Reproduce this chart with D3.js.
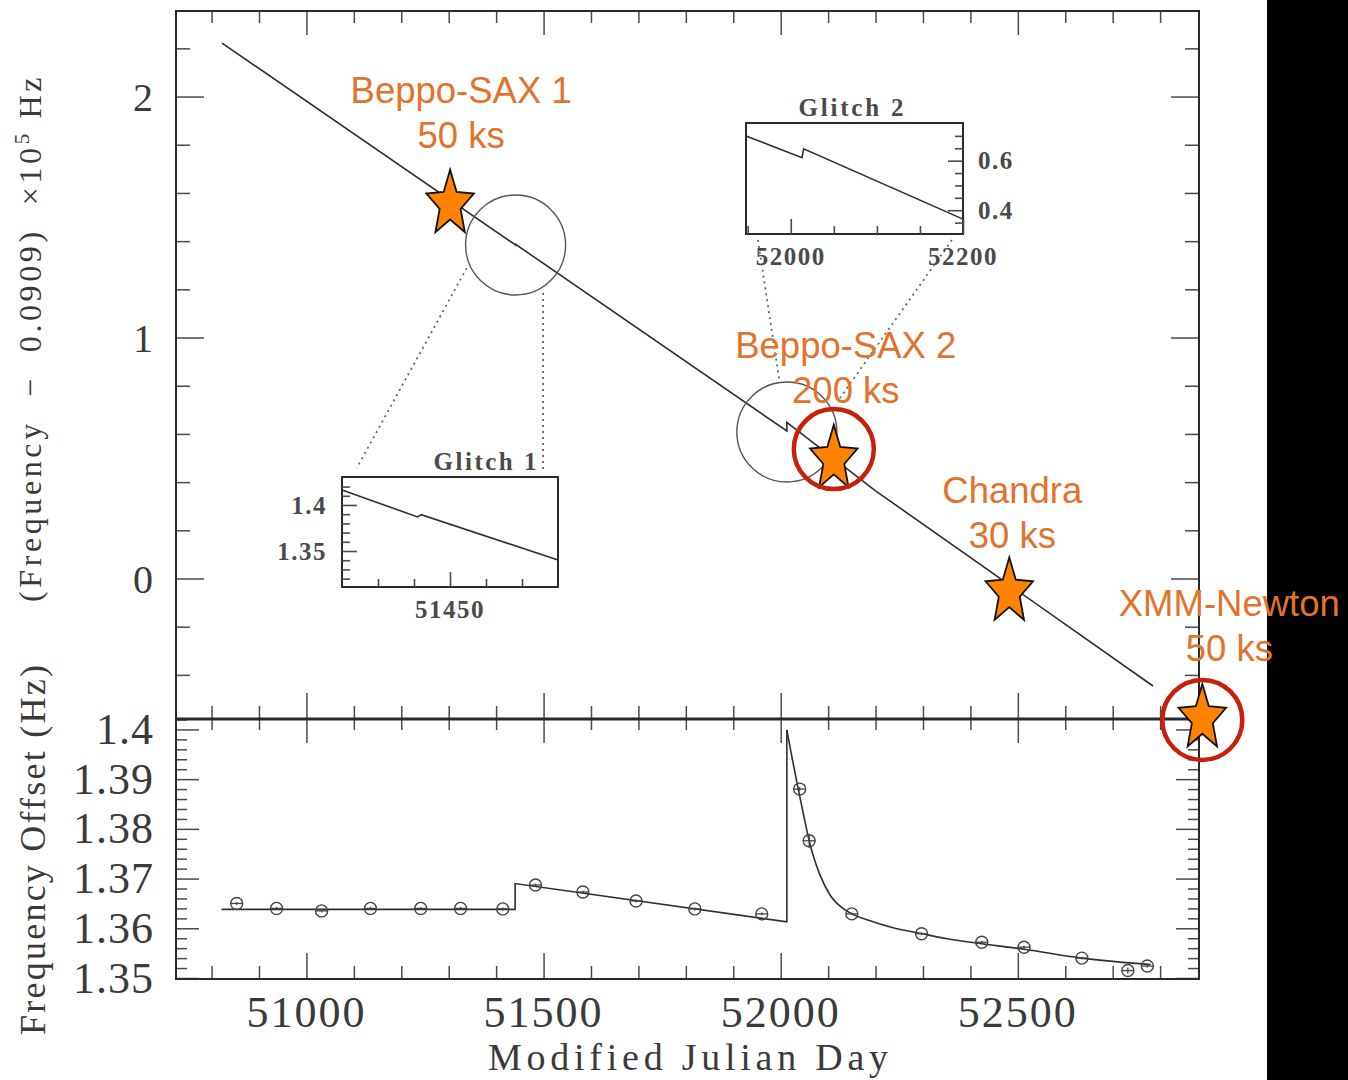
<!DOCTYPE html>
<html>
<head>
<meta charset="utf-8">
<script src="https://cdn.jsdelivr.net/npm/d3@7"></script>
<style>
  html, body { margin: 0; padding: 0; background: #fff; }
  svg { display: block; }
</style>
</head>
<body>
<script>
// ---- Data -------------------------------------------------------------
// Upper panel: spin frequency model, (Frequency - 0.0909) x 1e5 Hz vs MJD
const freqMjd   = [50822, 51441, 51441, 52013, 52013, 52200, 52785];
const freqValue = [2.222, 1.384, 1.387, 0.612, 0.648, 0.364, -0.446];

// Glitch 1 close-up
const g1Mjd   = [51420, 51441, 51442, 51480];
const g1Value = [1.4163, 1.3870, 1.3895, 1.3402];
// Glitch 2 close-up
const g2Mjd   = [51948, 52013, 52015, 52200];
const g2Value = [0.700, 0.612, 0.648, 0.364];

// Lower panel: measured frequency offsets (Hz)
const obsMjd    = [50853, 50937, 51032, 51135, 51241, 51325, 51414, 51483, 51583, 51695, 51819,
                   51960, 52040, 52060, 52150, 52297, 52424, 52513, 52635, 52732, 52773];
const obsOffset = [1.3650, 1.3640, 1.3635, 1.3640, 1.3640, 1.3640, 1.3639, 1.3687, 1.3673, 1.3655, 1.3639,
                   1.3629, 1.3880, 1.3776, 1.3629, 1.3589, 1.3572, 1.3562, 1.3540, 1.3515, 1.3524];
const obsErr    = [0.0003, 0.0003, 0.0003, 0.0003, 0.0003, 0.0003, 0.0003, 0.0003, 0.0003, 0.0003, 0.0003,
                   0.0003, 0.0004, 0.0014, 0.0003, 0.0003, 0.0003, 0.0003, 0.0003, 0.0006, 0.0003];

// Fitted model: piecewise linear before glitch 2, recovery afterwards
const fitPreMjd    = [50821, 51440, 51440, 52013, 52013];
const fitPreOffset = [1.3638, 1.3638, 1.3690, 1.3613, 1.3999];
const fitPostMjd    = [52013, 52024, 52034, 52047, 52060, 52068, 52083, 52104, 52130, 52150, 52182,
                       52237, 52298, 52351, 52416, 52513, 52635, 52780];
const fitPostOffset = [1.3999, 1.3943, 1.3894, 1.3834, 1.3776, 1.3748, 1.3707, 1.3667, 1.3641, 1.3629, 1.3617,
                       1.3601, 1.3589, 1.3579, 1.3570, 1.3558, 1.3540, 1.3527];

// X-ray observations
const obsNames    = ["Beppo-SAX 1", "Beppo-SAX 2", "Chandra", "XMM-Newton"];
const obsExposure = ["50 ks", "200 ks", "30 ks", "50 ks"];
const starMjd     = [51303, 52112, 52482, 52889];
const starValue   = [1.553, 0.495, -0.056, -0.581];
const ringMjd     = [52112, 52889];
const ringValue   = [0.537, -0.587];

// Zoom circles around glitches and dotted connectors to the close-ups
const glitchMjd   = [51441, 52013];
const glitchValue = [1.384, 0.608];
const connectors = [
  [[51338, 1.288], [51106, 0.458]],
  [[51499, 1.185], [51499, 0.450]],
  [[51952, 1.405], [51998, 0.811]],
  [[52361, 1.405], [52125, 0.749]]
];

// Tick labels
const xTickLabels   = ["51000", "51500", "52000", "52500"];
const topTickLabels = ["0", "1", "2"];
const botTickLabels = ["1.35", "1.36", "1.37", "1.38", "1.39", "1.4"];
const g1YTickLabels = ["1.35", "1.4"];
const g1XTickLabels = ["51450"];
const g2YTickLabels = ["0.4", "0.6"];
const g2XTickLabels = ["52000", "52200"];

// ---- Layout -----------------------------------------------------------
const W = 1348, H = 1080;
const L = 176, R = 1199, T = 11, MID = 719, B = 979;
const serif = "'Liberation Serif', 'Times New Roman', serif";
const sans  = "'Liberation Sans', Arial, sans-serif";
const ink = "#3a3a3a", tickInk = "#4a4a4a";
const orangeText = "#E2732D", starFill = "#FF8200", ringColor = "#C81E0A";
const labelOffset = [[11, -101], [12, -101], [3, -89], [27, -103]];

const svg = d3.select("body").append("svg").attr("width", W).attr("height", H);
svg.append("rect").attr("width", W).attr("height", H).attr("fill", "#fff");

const x = d3.scaleLinear().domain([50725, 52882]).range([L, R]);
const yTop = d3.scaleLinear().domain([-0.583, 2.355]).range([MID, T]);
const yBot = d3.scaleLinear().domain([1.3498, 1.4021]).range([B, MID]);

const zip = (a, b) => a.map((d, i) => [d, b[i]]);

function tickSet(axisFn, scale, vals, size, tx, ty, width) {
  const g = svg.append("g").attr("transform", `translate(${tx},${ty})`)
    .call(axisFn(scale).tickValues(vals).tickSize(size).tickFormat(""));
  g.select(".domain").remove();
  g.selectAll("line").attr("stroke", tickInk).attr("stroke-width", width || 1.5);
  return g;
}

// ---- Axes ticks ----------------------------------------------------------
const xMajor = xTickLabels.map(Number);
const xMinor = d3.range(508, 529).map(i => i * 100).filter(v => v % 500 !== 0);
const topMajor = topTickLabels.map(Number);
const topMinor = d3.range(-2, 12).map(i => +(i * 0.2).toFixed(1)).filter(v => !Number.isInteger(v));
const botMajor = botTickLabels.map(Number);
const botMinor = d3.range(675, 702).map(i => +(i * 0.002).toFixed(3))
  .filter(v => Math.abs(v * 100 - Math.round(v * 100)) > 1e-6);

// upper panel
tickSet(d3.axisBottom, x, xMajor, 24, 0, T);
tickSet(d3.axisBottom, x, xMinor, 12, 0, T);
tickSet(d3.axisTop, x, xMajor, 26, 0, MID);
tickSet(d3.axisTop, x, xMinor, 13, 0, MID);
tickSet(d3.axisRight, yTop, topMajor, 28, L, 0);
tickSet(d3.axisRight, yTop, topMinor, 14, L, 0);
tickSet(d3.axisLeft, yTop, topMajor, 28, R, 0);
tickSet(d3.axisLeft, yTop, topMinor, 14, R, 0);
// lower panel
tickSet(d3.axisBottom, x, xMajor, 24, 0, MID);
tickSet(d3.axisBottom, x, xMinor, 11, 0, MID);
tickSet(d3.axisTop, x, xMajor, 26, 0, B);
tickSet(d3.axisTop, x, xMinor, 13, 0, B);
tickSet(d3.axisRight, yBot, botMajor, 23, L, 0);
tickSet(d3.axisRight, yBot, botMinor, 11, L, 0);
tickSet(d3.axisLeft, yBot, botMajor, 23, R, 0);
tickSet(d3.axisLeft, yBot, botMinor, 11, R, 0);

// frames
svg.append("rect").attr("x", L).attr("y", T).attr("width", R - L).attr("height", B - T)
  .attr("fill", "none").attr("stroke", "#2a2a2a").attr("stroke-width", 2);
svg.append("line").attr("x1", L).attr("x2", R).attr("y1", MID).attr("y2", MID)
  .attr("stroke", "#2a2a2a").attr("stroke-width", 3.2);

// ---- Tick labels ----------------------------------------------------------
svg.append("g").selectAll("text").data(xTickLabels).join("text")
  .attr("x", d => x(+d)).attr("y", 1027)
  .attr("text-anchor", "middle").attr("font-family", serif).attr("font-size", 44)
  .attr("letter-spacing", 2).attr("fill", ink).text(d => d);

svg.append("g").selectAll("text").data(botTickLabels).join("text")
  .attr("x", 154).attr("y", d => yBot(+d)).attr("dy", "0.33em")
  .attr("text-anchor", "end").attr("font-family", serif).attr("font-size", 44)
  .attr("letter-spacing", 1).attr("fill", ink).text(d => d);

svg.append("g").selectAll("text").data(topTickLabels).join("text")
  .attr("x", 143).attr("y", d => yTop(+d)).attr("dy", "0.35em").attr("text-anchor", "middle")
  .attr("font-family", serif).attr("font-size", 40).attr("fill", ink).text(d => d);

// ---- Axis titles ----------------------------------------------------------
svg.append("text").attr("x", 688).attr("y", 1070).attr("text-anchor", "middle")
  .attr("font-family", serif).attr("font-size", 38).attr("fill", ink)
  .attr("textLength", 400).attr("lengthAdjust", "spacing").text("Modified Julian Day");

svg.append("text").attr("transform", "translate(45,850) rotate(-90)").attr("text-anchor", "middle")
  .attr("font-family", serif).attr("font-size", 36).attr("fill", ink)
  .attr("textLength", 370).attr("lengthAdjust", "spacing").text("Frequency Offset (Hz)");

const yt = svg.append("text").attr("transform", "translate(41,338) rotate(-90)")
  .attr("text-anchor", "middle").attr("font-family", serif).attr("font-size", 32)
  .attr("fill", ink).attr("letter-spacing", 3.6).style("white-space", "pre");
yt.append("tspan").text("(Frequency  \u2212  0.0909)  \u00d710");
yt.append("tspan").attr("dy", -12).attr("font-size", 21).text("5");
yt.append("tspan").attr("dy", 12).text(" Hz");

// ---- Upper panel marks ------------------------------------------------------
svg.append("path").datum(zip(freqMjd, freqValue))
  .attr("d", d3.line().x(d => x(d[0])).y(d => yTop(d[1])))
  .attr("fill", "none").attr("stroke", "#2e2e2e").attr("stroke-width", 1.6);

svg.append("g").selectAll("circle").data(zip(glitchMjd, glitchValue)).join("circle")
  .attr("cx", d => x(d[0])).attr("cy", d => yTop(d[1])).attr("r", 50)
  .attr("fill", "none").attr("stroke", "#555").attr("stroke-width", 1.4);

svg.append("g").selectAll("path").data(connectors).join("path")
  .attr("d", d3.line().x(d => x(d[0])).y(d => yTop(d[1])))
  .attr("fill", "none").attr("stroke", "#666").attr("stroke-width", 1.8)
  .attr("stroke-dasharray", "2,4");

// ---- Close-up insets ----------------------------------------------------------
function inset(opts) {
  const { box, xDom, yDom, mjd, val, xMaj, xMin, yMaj, yMin, yLabels, xLabels, title, yOnRight } = opts;
  const ix = d3.scaleLinear().domain(xDom).range([box[0], box[2]]);
  const iy = d3.scaleLinear().domain(yDom).range([box[3], box[1]]);
  svg.append("rect").attr("x", box[0]).attr("y", box[1])
    .attr("width", box[2] - box[0]).attr("height", box[3] - box[1])
    .attr("fill", "#fff").attr("stroke", "#2a2a2a").attr("stroke-width", 2);
  tickSet(d3.axisTop, ix, xMaj, 15, 0, box[3], 1.6);
  tickSet(d3.axisTop, ix, xMin, 8, 0, box[3], 1.6);
  const yAxis = yOnRight ? d3.axisLeft : d3.axisRight;
  const yx = yOnRight ? box[2] : box[0];
  tickSet(yAxis, iy, yMaj, 15, yx, 0, 1.6);
  tickSet(yAxis, iy, yMin, 8, yx, 0, 1.6);
  svg.append("path").datum(zip(mjd, val))
    .attr("d", d3.line().x(d => ix(d[0])).y(d => iy(d[1])))
    .attr("fill", "none").attr("stroke", "#2e2e2e").attr("stroke-width", 1.6);
  svg.append("g").selectAll("text").data(yLabels).join("text")
    .attr("x", yOnRight ? box[2] + 15 : box[0] - 15).attr("y", d => iy(+d)).attr("dy", "0.35em")
    .attr("text-anchor", yOnRight ? "start" : "end")
    .attr("font-family", serif).attr("font-size", 25).attr("letter-spacing", 1.5)
    .attr("font-weight", "bold").attr("fill", "#4a4a4a").text(d => d);
  svg.append("g").selectAll("text").data(xLabels).join("text")
    .attr("x", d => ix(+d)).attr("y", box[3] + 31).attr("text-anchor", "middle")
    .attr("font-family", serif).attr("font-size", 25).attr("letter-spacing", 1.5)
    .attr("font-weight", "bold").attr("fill", "#4a4a4a").text(d => d);
  svg.append("text").attr("x", title.x).attr("y", box[1] - 7).attr("text-anchor", "middle")
    .attr("font-family", serif).attr("font-size", 25).attr("font-weight", "bold")
    .attr("fill", "#4a4a4a").attr("textLength", title.w).attr("lengthAdjust", "spacing")
    .text(title.text);
}

inset({
  box: [342, 477, 558, 587], xDom: [51420, 51480], yDom: [1.3109, 1.4304],
  mjd: g1Mjd, val: g1Value,
  xMaj: [51450], xMin: [51430, 51440, 51460, 51470],
  yMaj: [1.35, 1.4], yMin: [1.32, 1.33, 1.34, 1.36, 1.37, 1.38, 1.39, 1.41, 1.42],
  yLabels: g1YTickLabels, xLabels: g1XTickLabels,
  title: { text: "Glitch 1", x: 485, w: 103 }, yOnRight: false
});

inset({
  box: [746, 123, 963, 234], xDom: [51948, 52200], yDom: [0.304, 0.752],
  mjd: g2Mjd, val: g2Value,
  xMaj: [52000, 52200], xMin: [51950, 52050, 52100, 52150],
  yMaj: [0.4, 0.6], yMin: [0.35, 0.45, 0.5, 0.55, 0.65, 0.7],
  yLabels: g2YTickLabels, xLabels: g2XTickLabels,
  title: { text: "Glitch 2", x: 851, w: 105 }, yOnRight: true
});

// ---- Lower panel marks ------------------------------------------------------
svg.append("path").datum(zip(fitPreMjd, fitPreOffset))
  .attr("d", d3.line().x(d => x(d[0])).y(d => yBot(d[1])))
  .attr("fill", "none").attr("stroke", "#2e2e2e").attr("stroke-width", 1.6);
svg.append("path").datum(zip(fitPostMjd, fitPostOffset))
  .attr("d", d3.line().curve(d3.curveMonotoneX).x(d => x(d[0])).y(d => yBot(d[1])))
  .attr("fill", "none").attr("stroke", "#2e2e2e").attr("stroke-width", 1.6);

const pts = svg.append("g").selectAll("g").data(obsMjd.map((m, i) => ({ m, v: obsOffset[i], e: obsErr[i] })))
  .join("g").attr("transform", d => `translate(${x(d.m)},${yBot(d.v)})`);
pts.append("line").attr("x1", 0).attr("x2", 0)
  .attr("y1", d => yBot(d.v + d.e) - yBot(d.v)).attr("y2", d => yBot(d.v - d.e) - yBot(d.v))
  .attr("stroke", "#444").attr("stroke-width", 1.3);
pts.append("circle").attr("r", 6).attr("fill", "none").attr("stroke", "#444").attr("stroke-width", 1.4);
pts.append("line").attr("x1", -6).attr("x2", 6).attr("stroke", "#444").attr("stroke-width", 1.3);

// ---- Right-hand strip ----------------------------------------------------------
svg.append("rect").attr("x", 1267).attr("y", 0).attr("width", W - 1267).attr("height", H).attr("fill", "#000");

// ---- Observations: stars, highlight rings, labels ------------------------------
function starPath(rx, ry, k) {
  const p = [];
  for (let i = 0; i < 10; i++) {
    const a = -Math.PI / 2 + i * Math.PI / 5, r = i % 2 ? k : 1;
    p.push([Math.cos(a) * rx * r, Math.sin(a) * ry * r]);
  }
  return "M" + p.map(q => q.join(",")).join("L") + "Z";
}

svg.append("g").selectAll("path").data(zip(starMjd, starValue)).join("path")
  .attr("transform", d => `translate(${x(d[0])},${yTop(d[1])})`)
  .attr("d", starPath(25, 34.5, 0.44))
  .attr("fill", starFill).attr("stroke", "#111").attr("stroke-width", 1.8)
  .attr("stroke-linejoin", "miter");

svg.append("g").selectAll("circle").data(zip(ringMjd, ringValue)).join("circle")
  .attr("cx", d => x(d[0])).attr("cy", d => yTop(d[1])).attr("r", 40)
  .attr("fill", "none").attr("stroke", ringColor).attr("stroke-width", 4.5);

const lab = svg.append("g").selectAll("text").data(obsNames.map((n, i) => i)).join("text")
  .attr("text-anchor", "middle").attr("font-family", sans).attr("font-size", 36.5)
  .attr("fill", orangeText);
lab.append("tspan")
  .attr("x", i => x(starMjd[i]) + labelOffset[i][0])
  .attr("y", i => yTop(starValue[i]) + labelOffset[i][1])
  .text(i => obsNames[i]);
lab.append("tspan")
  .attr("x", i => x(starMjd[i]) + labelOffset[i][0])
  .attr("y", i => yTop(starValue[i]) + labelOffset[i][1] + 45)
  .text(i => obsExposure[i]);
</script>
</body>
</html>
